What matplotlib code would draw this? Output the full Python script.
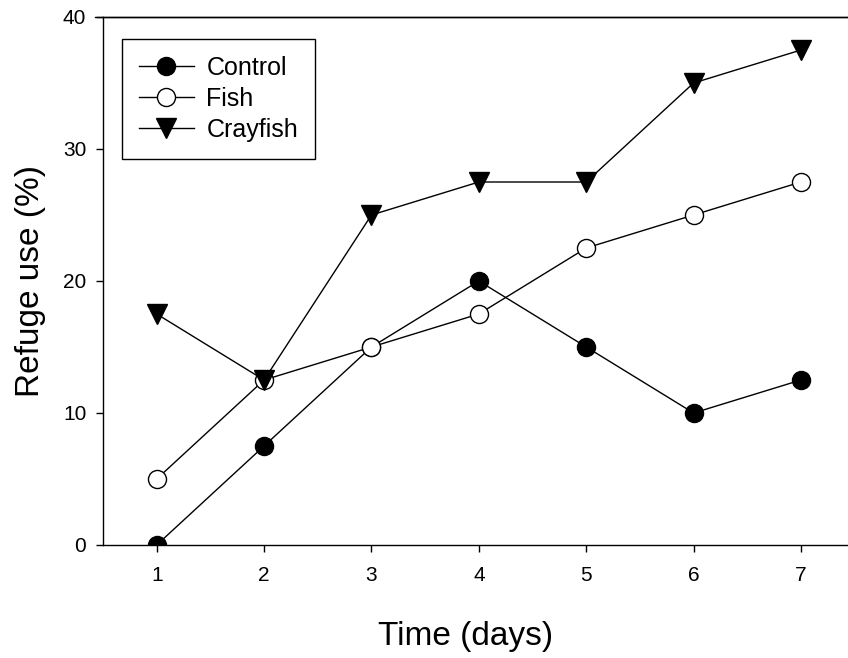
import matplotlib
matplotlib.use('Agg')
import matplotlib.pyplot as plt
from matplotlib.lines import Line2D

plt.rcParams['font.family'] = ['Liberation Sans', 'DejaVu Sans']

days = [1, 2, 3, 4, 5, 6, 7]
control = [0, 7.5, 15, 20, 15, 10, 12.5]
fish = [5, 12.5, 15, 17.5, 22.5, 25, 27.5]
crayfish = [17.5, 12.5, 25, 27.5, 27.5, 35, 37.5]

W, H = 848, 658
fig = plt.figure(figsize=(W / 100, H / 100), dpi=100)
# axes run past the right edge of the picture, as in the original
left, right, top, bottom = 103, 860, 17, 545
ax = fig.add_axes([left / W, 1 - bottom / H, (right - left) / W, (bottom - top) / H])

ax.plot(days, control, color='black', lw=1, marker='o', ms=13,
        mfc='black', mec='black', label='Control')
ax.plot(days, fish, color='black', lw=1, marker='o', ms=13,
        mfc='white', mec='black', label='Fish')
ax.plot(days, crayfish, color='black', lw=1, marker='v', ms=14,
        mfc='black', mec='black', label='Crayfish')

ax.set_xlim(0.5, 7 + (right - 801) / 107.33)
ax.set_ylim(0, 40)
ax.set_xticks(days)
ax.set_yticks([0, 10, 20, 30, 40])
ax.tick_params(direction='out', length=5, width=1, labelsize=15)
ax.tick_params(axis='x', pad=10)
ax.tick_params(axis='y', pad=7)
ax.spines['right'].set_visible(False)
for s in ['left', 'bottom', 'top']:
    ax.spines[s].set_linewidth(1)

ax.set_xlabel('Time (days)', fontsize=24)
ax.xaxis.set_label_coords((466 - left) / (right - left), -0.143)
ax.set_ylabel('Refuge use (%)', fontsize=24, labelpad=12)

# top frame line pokes a bit left of the y axis
fig.add_artist(Line2D([95 / W, 1], [1 - top / H, 1 - top / H], color='black', lw=1))

leg = ax.legend(loc='upper left', bbox_to_anchor=(19 / (right - left), 1 - 22 / (bottom - top)),
                borderaxespad=0, fontsize=18, handlelength=2.2, frameon=True, fancybox=False,
                edgecolor='black', framealpha=1, borderpad=0.67, labelspacing=0.28,
                handletextpad=0.5)
leg.get_frame().set_linewidth(1)

fig.savefig('out.png', dpi=100)
